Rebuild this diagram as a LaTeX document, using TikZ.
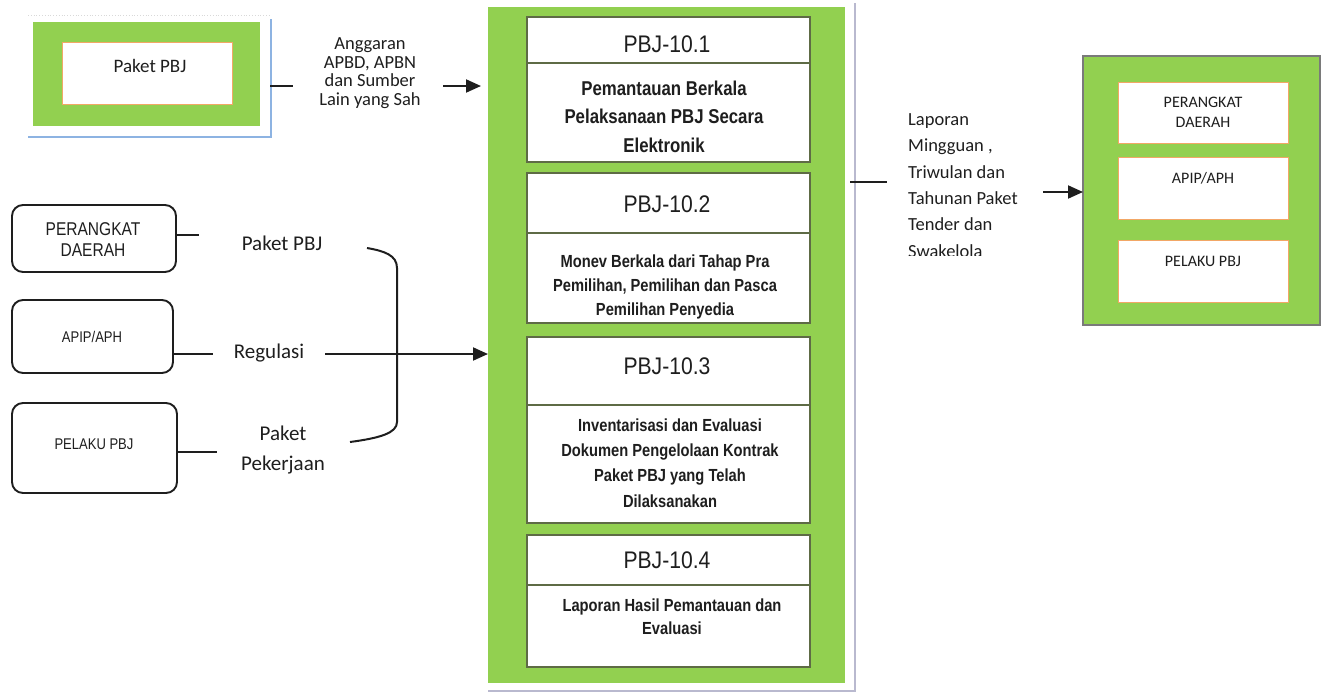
\documentclass[tikz,border=0pt]{standalone}
\usepackage{fontspec}
\setmainfont{Carlito}
\newfontfamily\condsans[FakeStretch=0.84]{Liberation Sans}
\newfontfamily\titlesans[FakeStretch=0.88]{Liberation Sans}
\usetikzlibrary{arrows.meta}

\definecolor{leaf}{HTML}{92D050}
\definecolor{ink}{HTML}{1E1E1E}
\definecolor{cellline}{HTML}{5E6B45}
\definecolor{peach}{HTML}{F2A766}
\definecolor{frame}{HTML}{7A7A7A}
\definecolor{sky}{HTML}{8DB3E2}
\definecolor{mist}{HTML}{B9B9CF}

\tikzset{
  box/.style={inner sep=0pt, outer sep=0pt},
  greenpad/.style={box, fill=leaf},
  cell/.style={box, fill=white, draw=cellline, line width=1.2pt},
  peachcell/.style={box, fill=white, draw=peach, line width=1pt},
  roundbox/.style={box, fill=white, draw=ink, line width=1.9pt, rounded corners=11pt},
  link/.style={draw=ink, line width=2pt},
  flow/.style={link, -{Triangle[length=15pt,width=13pt]}},
  txt/.style={inner sep=0pt, text=ink, align=center},
  stagetitle/.style={txt, font=\titlesans\fontsize{24}{28}\selectfont},
  stagebody/.style={txt, font=\condsans\bfseries\fontsize{17.5}{#1}\selectfont},
  actor/.style={txt, font=\condsans\fontsize{#1}{21}\selectfont},
  note/.style={txt, font=\fontsize{18.5}{18.7}\selectfont},
  flowlabel/.style={txt, font=\fontsize{21}{30}\selectfont},
  small/.style={txt, font=\fontsize{16}{20}\selectfont},
}

\begin{document}
\begin{tikzpicture}[x=1pt,y=-1pt]
\useasboundingbox (0,0) rectangle (1324,694);

% ---------- source package box (top left) ----------
\draw[gray!30, line width=0.8pt, dotted] (28,15) -- (270,15);
\draw[sky, line width=1.6pt] (271,19) -- (271,137) -- (28,137);
\node[greenpad, minimum width=227pt, minimum height=104pt] (src) at (146.5,74) {};
\node[peachcell, minimum width=170pt, minimum height=62pt] (srcin) at (147,73) {};
\node[txt, font=\fontsize{19}{22}\selectfont] (srct) at (150,66) {Paket PBJ};

\coordinate (srcout) at (270,86);
\coordinate (srcend) at (293,86);
\draw[link] (srcout) -- (srcend);
\node[note] (budget) at (370,73) {Anggaran\\APBD, APBN\\dan Sumber\\Lain yang Sah};
\coordinate (budgetout) at (443,86);
\coordinate (mainin) at (481,86);
\draw[flow] (budgetout) -- (mainin);

% ---------- main process column ----------
\draw[mist, line width=1.5pt] (855,3) -- (855,691) -- (488,691);
\node[greenpad, minimum width=357pt, minimum height=676pt] (main) at (666.5,345) {};

\node[cell, minimum width=283pt, minimum height=46pt] (h1) at (668.5,40) {};
\node[cell, minimum width=283pt, minimum height=99pt] (b1) at (668.5,112.5) {};
\node[cell, minimum width=283pt, minimum height=60pt] (h2) at (668.5,203) {};
\node[cell, minimum width=283pt, minimum height=90pt] (b2) at (668.5,278) {};
\node[cell, minimum width=283pt, minimum height=68pt] (h3) at (668.5,371) {};
\node[cell, minimum width=283pt, minimum height=118pt] (b3) at (668.5,464) {};
\node[cell, minimum width=283pt, minimum height=50pt] (h4) at (668.5,560) {};
\node[cell, minimum width=283pt, minimum height=82pt] (b4) at (668.5,626) {};

\node[stagetitle] (ht1) at (667,44) {PBJ-10.1};
\node[stagetitle] (ht2) at (667,204) {PBJ-10.2};
\node[stagetitle] (ht3) at (667,366) {PBJ-10.3};
\node[stagetitle] (ht4) at (667,560) {PBJ-10.4};

\node[txt, font=\condsans\bfseries\fontsize{20}{28.5}\selectfont] (bt1) at (664,116.5)
  {Pemantauan Berkala\\Pelaksanaan PBJ Secara\\Elektronik};
\node[stagebody=24] (bt2) at (665,286.5)
  {Monev Berkala dari Tahap Pra\\Pemilihan, Pemilihan dan Pasca\\Pemilihan Penyedia};
\node[stagebody=25.3] (bt3) at (670,463)
  {Inventarisasi dan Evaluasi\\Dokumen Pengelolaan Kontrak\\Paket PBJ yang Telah\\Dilaksanakan};
\node[stagebody=23] (bt4) at (672,617)
  {Laporan Hasil Pemantauan dan\\Evaluasi};

% ---------- actors on the left ----------
\node[roundbox, minimum width=164pt, minimum height=67pt] (pd) at (94,238.5) {};
\node[roundbox, minimum width=161pt, minimum height=73pt] (apip) at (92.5,336.5) {};
\node[roundbox, minimum width=165pt, minimum height=90pt] (pelaku) at (94.5,448) {};
\node[actor=18.5] (pdt) at (93,239.5) {PERANGKAT\\DAERAH};
\node[actor=15.5] (apipt) at (92,337) {APIP/APH};
\node[actor=15.5] (pelakut) at (94,444) {PELAKU PBJ};

\coordinate (pdend) at (199,235);
\coordinate (apipend) at (213,354);
\coordinate (pelakuend) at (217,452);
\draw[link] (pd.east |- pdend) -- (pdend);
\draw[link] (apip.east |- apipend) -- (apipend);
\draw[link] (pelaku.east |- pelakuend) -- (pelakuend);

\node[flowlabel] (lpaket) at (282,243) {Paket PBJ};
\node[flowlabel] (lreg) at (269,353.5) {Regulasi};
\node[flowlabel] (lkerja) at (283,450) {Paket\\Pekerjaan};

% bracket gathering the three inputs
\coordinate (brtop) at (367,248);
\coordinate (brbot) at (350,442);
\draw[link] (brtop) .. controls (384,251) and (397,255) .. (397,268)
  -- (397,422) .. controls (397,433) and (380,438) .. (brbot);

\coordinate (regstart) at (325,354);
\draw[flow] (regstart) -- (main.west |- regstart);

% ---------- report output on the right ----------
\coordinate (repstart) at (850,182);
\coordinate (repend) at (887,182);
\draw[link] (repstart) -- (repend);

\begin{scope}
  \clip (890,95) rectangle (1040,255);
  \node[txt, align=left, anchor=west, font=\fontsize{18.5}{26.4}\selectfont] (report) at (908,185.5)
    {Laporan\\Mingguan ,\\Triwulan dan\\Tahunan Paket\\Tender dan\\Swakelola};
\end{scope}

\coordinate (repout) at (1043,192);
\node[greenpad, draw=frame, line width=1.5pt, minimum width=237pt, minimum height=269pt] (dest) at (1201.5,190.5) {};
\draw[flow] (repout) -- (dest.west |- repout);

\node[peachcell, minimum width=170pt, minimum height=61pt] (d1) at (1203,112.5) {};
\node[peachcell, minimum width=170pt, minimum height=62pt] (d2) at (1203,188) {};
\node[peachcell, minimum width=170pt, minimum height=62pt] (d3) at (1203,271) {};
\node[small] (d1t) at (1203,112) {PERANGKAT\\DAERAH};
\node[small] (d2t) at (1203,178) {APIP/APH};
\node[small] (d3t) at (1203,261) {PELAKU PBJ};

\end{tikzpicture}
\end{document}
